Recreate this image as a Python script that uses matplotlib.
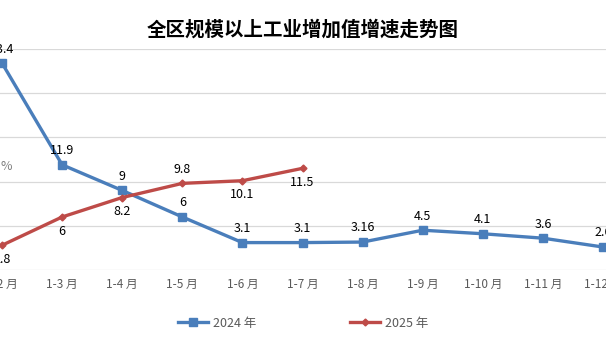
import matplotlib.pyplot as plt

plt.rcParams['font.family'] = ['Noto Sans CJK SC', 'DejaVu Sans']

# data
months = ["1-2 月", "1-3 月", "1-4 月", "1-5 月", "1-6 月", "1-7 月",
          "1-8 月", "1-9 月", "1-10 月", "1-11 月", "1-12 月"]
growth_2024 = [23.4, 11.9, 9, 6, 3.1, 3.1, 3.16, 4.5, 4.1, 3.6, 2.6]
growth_2025 = [2.8, 6, 8.2, 9.8, 10.1, 11.5]
labels_2024 = ["23.4", "11.9", "9", "6", "3.1", "3.1", "3.16", "4.5", "4.1", "3.6", "2.6"]
labels_2025 = ["2.8", "6", "8.2", "9.8", "10.1", "11.5"]
# label above (+1) or below (-1) the 2025 point
side_2025 = [-1, -1, -1, 1, -1, -1]

blue = "#4A7EBB"
red = "#BE4B48"
grey = "#595959"

fig = plt.figure(figsize=(6.06, 3.4), dpi=100)
# plot area is wider than the picture: the source image is cropped on both sides
ax = fig.add_axes([-28 / 606, 70 / 340, 661 / 606, 221 / 340])

x24 = list(range(len(growth_2024)))
x25 = list(range(len(growth_2025)))

ax.plot(x24, growth_2024, color=blue, linewidth=2.4, marker="s", markersize=5.5,
        label="2024 年", zorder=3)
ax.plot(x25, growth_2025, color=red, linewidth=2.4, marker="D", markersize=3.5,
        label="2025 年", zorder=3)

for xi, v, t in zip(x24, growth_2024, labels_2024):
    ax.annotate(t, (xi, v), xytext=(0, 5.5), textcoords="offset points",
                ha="center", va="bottom", fontsize=9, color="black")
for xi, v, t, s in zip(x25, growth_2025, labels_2025, side_2025):
    ax.annotate(t, (xi, v), xytext=(0, 5.5 * s), textcoords="offset points",
                ha="center", va="bottom" if s > 0 else "top", fontsize=9, color="black")

ax.set_xlim(-0.5, len(months) - 0.5)
ax.set_ylim(0, 25)
ax.set_yticks([0, 5, 10, 15, 20, 25])
ax.set_xticks(x24)
ax.set_xticklabels(months, fontsize=8.5, color=grey)
ax.tick_params(length=0, pad=6, labelcolor=grey)
ax.grid(axis="y", color="#D9D9D9", linewidth=0.9)
ax.set_axisbelow(True)
for sp in ax.spines.values():
    sp.set_visible(False)

fig.text(6 / 606, 1 - 166 / 340, "%", color="#7F7F7F", fontsize=9, ha="center", va="center")

fig.text(0.5, 1 - 30 / 340, "全区规模以上工业增加值增速走势图", fontsize=14,
         fontweight="bold", ha="center", va="center", color="black")

fig.legend(loc="center", bbox_to_anchor=(0.5, 1 - 323 / 340), ncol=2, frameon=False,
           fontsize=9, labelcolor=grey, handlelength=2.4, columnspacing=7.5,
           handletextpad=0.4)

fig.savefig("out.png", dpi=100)
